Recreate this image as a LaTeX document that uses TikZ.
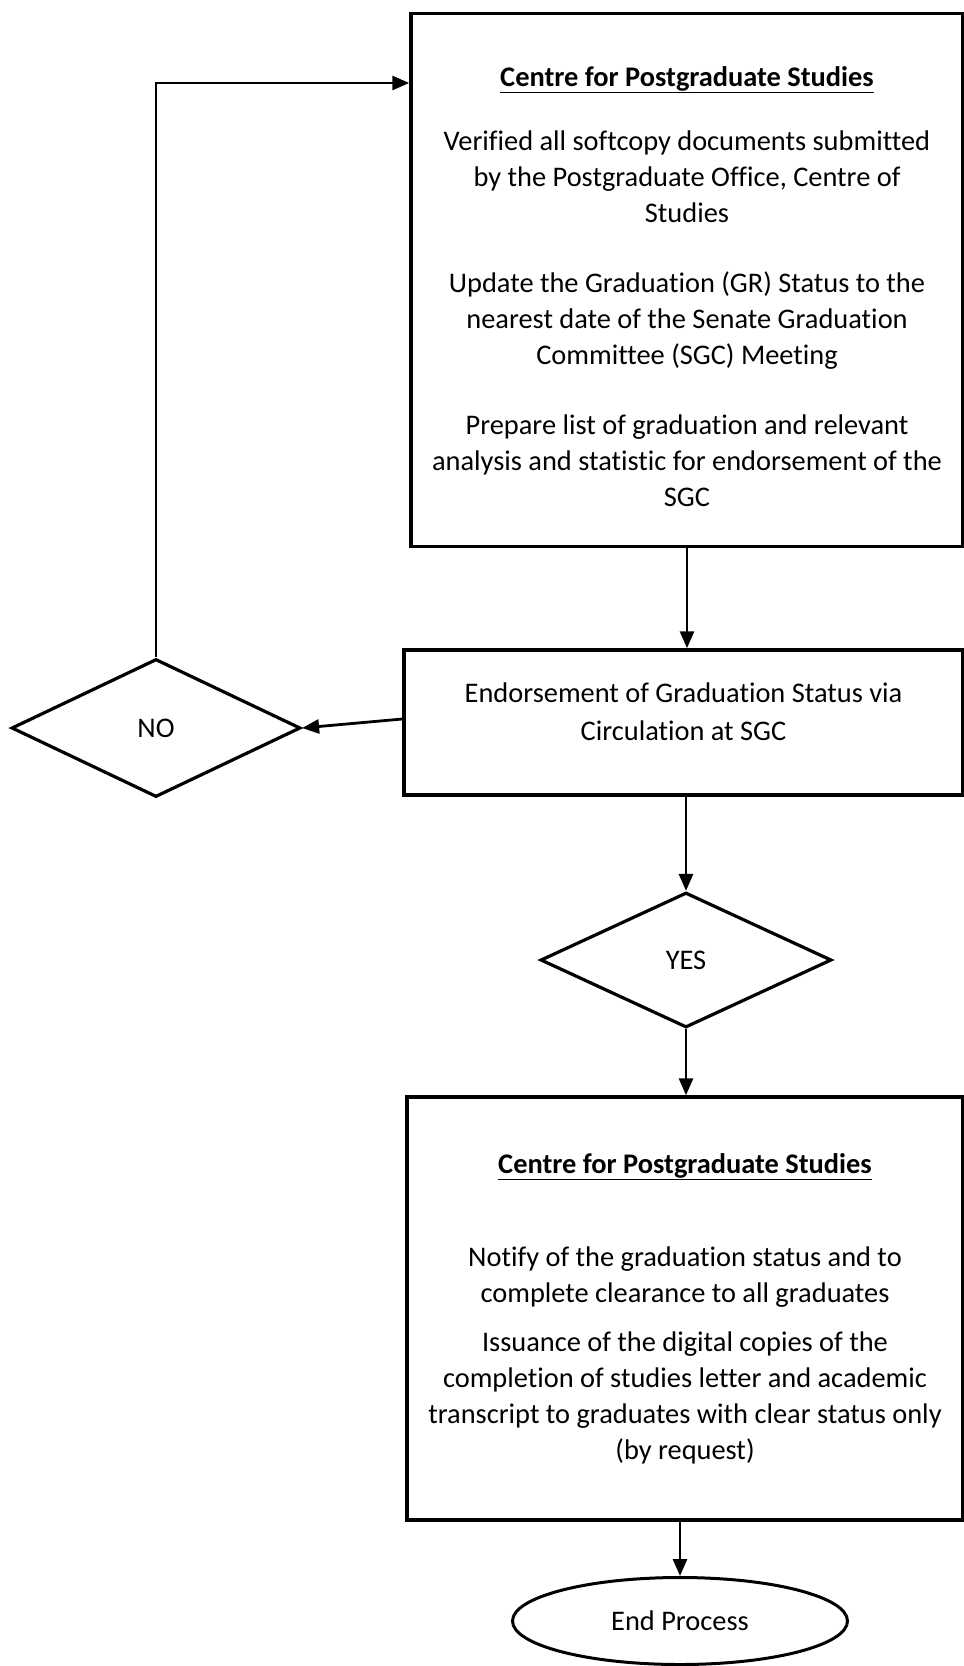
\documentclass[tikz,border=0pt]{standalone}
\usepackage{fontspec}
\setmainfont{Carlito}[Ligatures=NoCommon]
\usetikzlibrary{shapes.geometric,arrows.meta}

\begin{document}
\begin{tikzpicture}[x=1pt, y=-1pt,
                    every node/.style = {align=center,
                        font=\fontsize{28.4}{36}\selectfont},
                    box/.style = {shape=rectangle, draw, line width=3.5pt},
                    decision/.style = {shape=diamond, draw, line width=3.2pt, inner sep=0pt},
                    terminal/.style = {shape=ellipse, draw, line width=3pt, inner sep=0pt},
                    arr/.style = {line width=2.8pt, -{Triangle[length=17pt,width=14pt]}}]

        \useasboundingbox (0,0) rectangle (964,1666);

        % boxes
        \node[box, minimum width=552pt, minimum height=533pt] (verify) at (687,280)
            {\strut\\[-29pt]
             \underline{\textbf{Centre for Postgraduate Studies}}\\[28pt]
             Verified all softcopy documents submitted\\
             by the Postgraduate Office, Centre of\\
             Studies\\[34pt]
             Update the Graduation (GR) Status to the\\
             nearest date of the Senate Graduation\\
             Committee (SGC) Meeting\\[34pt]
             Prepare list of graduation and relevant\\
             analysis and statistic for endorsement of the\\
             SGC};
        \node[box, minimum width=559pt, minimum height=145pt] (endorse) at (683.5,722.5)
            {Endorsement of Graduation Status via\\[2pt]
             Circulation at SGC\\[-26pt]\strut};
        \node[decision, minimum width=289pt, minimum height=138pt] (no) at (156,728) {NO};
        \node[decision, minimum width=291pt, minimum height=135pt] (yes) at (686,960) {YES};
        \node[box, minimum width=556pt, minimum height=423pt] (notify) at (685,1308.5)
            {\underline{\textbf{Centre for Postgraduate Studies}}\\[57pt]
             Notify of the graduation status and to\\
             complete clearance to all graduates\\[13pt]
             Issuance of the digital copies of the\\
             completion of studies letter and academic\\
             transcript to graduates with clear status only\\
             (by request)};
        \node[terminal, minimum width=335pt, minimum height=87pt] (end) at (680,1621) {End Process};

        % connectors
        \coordinate (loop) at (verify.west |- 0,83);
        \coordinate (endorseout) at (endorse.west |- 0,719);
        \draw[arr] (verify.south) -- (verify.south |- endorse.north);
        \draw[arr] (endorseout) -- (no.east);
        \draw[arr] (no.north) |- (loop);
        \draw[arr] (yes.north |- endorse.south) -- (yes.north);
        \draw[arr] (yes.south) -- (yes.south |- notify.north);
        \draw[arr] (end.north |- notify.south) -- (end.north);

\end{tikzpicture}
\end{document}
